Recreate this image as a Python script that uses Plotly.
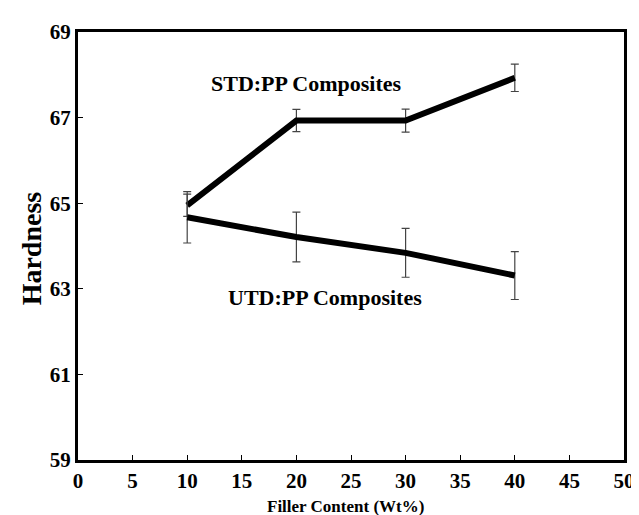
import plotly.graph_objects as go

filler = [10, 20, 30, 40]
std_hardness = [64.95, 66.93, 66.93, 67.93]
std_err = [0.26, 0.26, 0.27, 0.32]
utd_hardness = [64.67, 64.21, 63.84, 63.31]
utd_err = [0.6, 0.58, 0.57, 0.56]
x_ticks = [0, 5, 10, 15, 20, 25, 30, 35, 40, 45, 50]
y_ticks = [59, 61, 63, 65, 67, 69]

FONT = "Liberation Serif"

fig = go.Figure()
fig.add_trace(go.Scatter(
    x=filler, y=std_hardness, mode="lines",
    line=dict(color="black", width=6),
    error_y=dict(type="data", array=std_err, color="#444", thickness=1.2, width=4),
    name="STD:PP Composites", showlegend=False))
fig.add_trace(go.Scatter(
    x=filler, y=utd_hardness, mode="lines",
    line=dict(color="black", width=6),
    error_y=dict(type="data", array=utd_err, color="#444", thickness=1.2, width=4),
    name="UTD:PP Composites", showlegend=False))

fig.add_annotation(x=20.9, y=67.8, text="<b>STD:PP Composites</b>", showarrow=False,
                   font=dict(family=FONT, size=22, color="black"))
fig.add_annotation(x=22.6, y=62.8, text="<b>UTD:PP Composites</b>", showarrow=False,
                   font=dict(family=FONT, size=22, color="black"))
fig.add_annotation(x=0.49, y=-0.108, xref="paper", yref="paper",
                   xanchor="center", yanchor="middle",
                   text="<b>Filler Content (Wt%)</b>", showarrow=False,
                   font=dict(family=FONT, size=17, color="black"))
fig.add_annotation(x=-0.0857, y=0.495, xref="paper", yref="paper",
                   xanchor="center", yanchor="middle",
                   text="<b>Hardness</b>", showarrow=False, textangle=-90,
                   font=dict(family=FONT, size=28, color="black"))

axis_common = dict(
    showgrid=False, zeroline=False, showline=True, linecolor="black", linewidth=3,
    mirror=True, ticks="inside", ticklen=5, tickcolor="black", tickwidth=1,
    tickfont=dict(family=FONT, size=21, color="black"),
)
fig.update_xaxes(range=[0, 50], tickvals=x_ticks, ticktext=[f"<b>{v}</b>" for v in x_ticks],
                 **axis_common)
fig.update_yaxes(range=[59, 69], tickvals=y_ticks, ticktext=[f"<b>{v}</b>" for v in y_ticks],
                 **axis_common)

fig.update_layout(
    width=639, height=515,
    margin=dict(l=70, r=12, t=20, b=63),
    plot_bgcolor="white", paper_bgcolor="white",
)
fig.write_html("out.html")
